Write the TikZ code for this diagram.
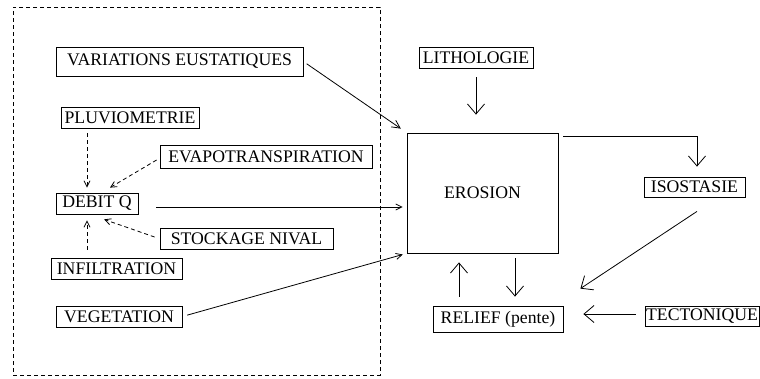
\documentclass[tikz,border=0pt]{standalone}
\usepackage{fontspec}
\setmainfont{Liberation Serif}
\usepackage{tikz}
\usetikzlibrary{positioning, arrows.meta, calc}
\tikzset{
  every node/.style={font=\fontsize{17.7}{20}\selectfont},
  facteur/.style={
    rectangle, draw=black, line width=0.8pt, inner sep=0pt,
    minimum height=21pt, align=center
  },
  bassin/.style={
    rectangle, draw=black, line width=0.8pt,
    dash pattern=on 4pt off 3pt, inner sep=0pt
  },
  grande/.style={-{Straight Barb[length=10pt, width=17pt]}, line width=0.8pt},
  moyenne/.style={-{Straight Barb[length=8pt, width=8pt]}, line width=0.8pt},
  petite/.style={-{Straight Barb[length=6pt, width=6pt]}, line width=0.8pt},
  pointille/.style={petite, dash pattern=on 4pt off 3pt}
}

\begin{document}
\begin{tikzpicture}[x=1pt, y=-1pt]
\useasboundingbox (0,0) rectangle (760,378);

% ── Bassin versant (cadre pointille) ─────────────────────────────────────────
\node[bassin, minimum width=367pt, minimum height=368pt] (cadre) at (196.5,191) {};

\node[facteur, minimum width=247pt, minimum height=29pt] (vareust) at (179.5,61.5) {VARIATIONS EUSTATIQUES};
\node[facteur, minimum width=138pt] (pluvio) at (130,117.5) {PLUVIOMETRIE};
\node[facteur, minimum width=212pt, minimum height=23pt] (evapo) at (266,156.5) {EVAPOTRANSPIRATION};
\node[facteur, minimum width=82pt] (debit) at (97,203.5) {DEBIT Q};
\node[facteur, minimum width=173pt] (stockage) at (246.5,238.5) {STOCKAGE NIVAL};
\node[facteur, minimum width=131pt] (infil) at (116.5,268.5) {INFILTRATION};
\node[facteur, minimum width=126pt] (veget) at (119,316.5) {VEGETATION};

% Alimentation du debit (fleches pointillees)
\draw[pointille] ($(debit.north |- pluvio.south)+(-10,5)$) -- ($(debit.north)+(-10,-5)$);
\draw[pointille] ($(evapo.west)+(-3,3.5)$) -- ($(debit.north)+(13,-5)$);
\draw[pointille] ($(stockage.west)+(-5,-1.5)$) -- ($(debit.south)+(7,5)$);
\draw[pointille] ($(debit.south |- infil.north)+(-10,-8)$) -- ($(debit.south)+(-10,6)$);

% ── Erosion et facteurs externes ─────────────────────────────────────────────
\node[facteur, minimum width=151pt, minimum height=120pt] (erosion) at (482.5,193) {EROSION};
\node[facteur, minimum width=114pt] (litho) at (476,57.5) {LITHOLOGIE};
\node[facteur, minimum width=101pt, minimum height=20pt] (isostasie) at (694.5,187) {ISOSTASIE};
\node[facteur, minimum width=130pt, minimum height=26pt] (relief) at (498,319) {RELIEF (pente)};
\node[facteur, minimum width=114pt, minimum height=20pt] (tecto) at (702,316) {TECTONIQUE};

% Entrees depuis le bassin
\draw[moyenne, shorten <=4pt, shorten >=7pt] (vareust.east) -- (erosion.north west);
\draw[petite, shorten <=18pt, shorten >=4pt]
  ($(debit.east)+(0,3.5)$) -- ($(debit.east -| erosion.west)+(0,3.5)$);
\draw[petite, shorten <=5pt, shorten >=4pt] (veget.east) -- (erosion.south west);

% Boucle erosion / isostasie / relief
\draw[grande, shorten <=9pt, shorten >=18pt] (litho.south) -- (litho.south |- erosion.north);
\draw[grande, shorten <=5pt, shorten >=10pt]
  ($(erosion.north east)+(0,4)$) -| ($(isostasie.north)+(2.5,0)$);
\draw[grande] ($(isostasie.south)+(2.5,14)$) -- ($(relief.north east)+(17,-17)$);
\draw[grande, shorten <=9pt, shorten >=20pt]
  ($(tecto.west)+(0,-2)$) -- ($(tecto.west -| relief.east)+(0,-2)$);
\draw[grande] ($(relief.north)+(-39,-9)$) -- ($(relief.north |- erosion.south)+(-39,9)$);
\draw[grande] ($(relief.north |- erosion.south)+(17,5)$) -- ($(relief.north)+(17,-9)$);

\end{tikzpicture}
\end{document}
